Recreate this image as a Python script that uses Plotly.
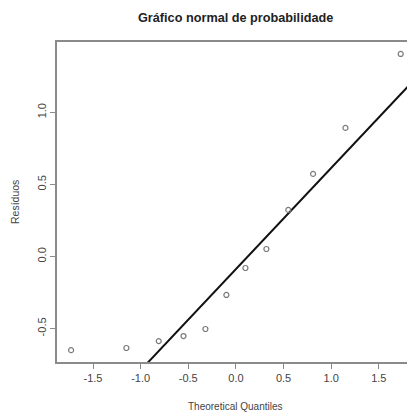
import numpy as np
import plotly.graph_objects as go

# Normal Q-Q plot of model residuals
theoretical_q = [-1.73, -1.15, -0.81, -0.55, -0.32, -0.10, 0.10, 0.32, 0.55, 0.81, 1.15, 1.73]
residuos = [-0.650, -0.635, -0.587, -0.552, -0.503, -0.267, -0.080, 0.052, 0.323, 0.573, 0.892, 1.405]

x_ticks = [-1.5, -1.0, -0.5, 0.0, 0.5, 1.0, 1.5]
x_tick_text = ["-1.5", "-1.0", "-0.5", "0.0", "0.5", "1.0", "1.5"]
y_ticks = [-0.5, 0.0, 0.5, 1.0]
y_tick_text = ["-0.5", "0.0", "0.5", "1.0"]

# Reference line through the first and third quartiles (qqline style)
y_sorted = np.sort(np.array(residuos))
q1, q3 = np.quantile(y_sorted, [0.25, 0.75])
z1, z3 = -0.6744897501960817, 0.6744897501960817
slope = (q3 - q1) / (z3 - z1)
intercept = q1 - slope * z1

x_range = [-1.878, 1.796]
y_range = [-0.732, 1.488]
line_x = np.array([x_range[0] - 0.5, x_range[1] + 0.5])
line_y = intercept + slope * line_x

FONT = "Liberation Sans, Arial, sans-serif"
AXIS_GRAY = "#8a8a8a"
TEXT_GRAY = "#444444"

fig = go.Figure()
fig.add_trace(go.Scatter(
    x=line_x, y=line_y, mode="lines",
    line=dict(color="#111111", width=2),
    hoverinfo="skip", showlegend=False,
))
fig.add_trace(go.Scatter(
    x=theoretical_q, y=residuos, mode="markers",
    marker=dict(symbol="circle-open", size=5, color="#7a7a7a", line=dict(width=1.2, color="#7a7a7a")),
    showlegend=False,
))

fig.update_layout(
    width=407, height=412,
    margin=dict(l=57, r=0, t=42, b=50),
    paper_bgcolor="white", plot_bgcolor="white",
    font=dict(family=FONT, size=11, color=TEXT_GRAY),
    xaxis=dict(
        range=x_range, showgrid=False, zeroline=False,
        showline=True, linecolor=AXIS_GRAY, linewidth=1.5, mirror=True,
        ticks="outside", ticklen=5, tickwidth=1, tickcolor=AXIS_GRAY,
        tickvals=x_ticks, ticktext=x_tick_text,
        tickfont=dict(size=11, color=TEXT_GRAY),
    ),
    yaxis=dict(
        range=y_range, showgrid=False, zeroline=False,
        showline=True, linecolor=AXIS_GRAY, linewidth=1.5,
        ticks="outside", ticklen=5, tickwidth=1, tickcolor=AXIS_GRAY,
        tickvals=y_ticks, ticktext=y_tick_text, tickangle=-90,
        tickfont=dict(size=11, color=TEXT_GRAY),
    ),
    annotations=[
        dict(text="<b>Gráfico normal de probabilidade</b>", xref="paper", yref="paper",
             x=0.511, y=1 + 24 / 320, xanchor="center", yanchor="middle", showarrow=False,
             font=dict(family=FONT, size=12.7, color="#222222")),
        dict(text="Theoretical Quantiles", xref="paper", yref="paper",
             x=0.511, y=-44 / 320, xanchor="center", yanchor="middle", showarrow=False,
             font=dict(family=FONT, size=10, color=TEXT_GRAY)),
        dict(text="Resíduos", xref="paper", yref="paper",
             x=-42 / 350, y=0.5, xanchor="center", yanchor="middle", showarrow=False,
             textangle=-90, font=dict(family=FONT, size=10.5, color=TEXT_GRAY)),
    ],
)

fig.write_html("out.html")
